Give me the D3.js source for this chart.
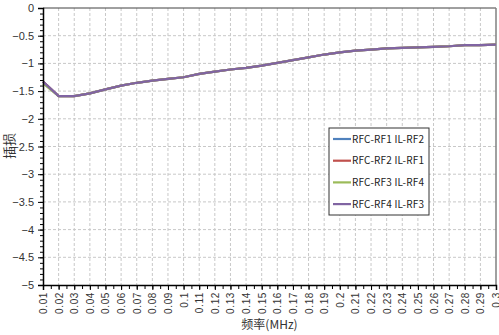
<!DOCTYPE html>
<html>
<head>
<meta charset="utf-8">
<script src="https://cdn.jsdelivr.net/npm/d3@7"></script>
<style>
  body { margin: 0; background: #fff; }
  svg { display: block; font-family: "Noto Sans CJK SC", "DejaVu Sans", sans-serif; }
</style>
</head>
<body>
<div id="chart"></div>
<script>
// frequency points (MHz)
const freqs = [0.01, 0.02, 0.03, 0.04, 0.05, 0.06, 0.07, 0.08, 0.09, 0.1,
               0.11, 0.12, 0.13, 0.14, 0.15, 0.16, 0.17, 0.18, 0.19, 0.2,
               0.21, 0.22, 0.23, 0.24, 0.25, 0.26, 0.27, 0.28, 0.29, 0.3];
const xLabels = ['0.01', '0.02', '0.03', '0.04', '0.05', '0.06', '0.07', '0.08', '0.09', '0.1',
                 '0.11', '0.12', '0.13', '0.14', '0.15', '0.16', '0.17', '0.18', '0.19', '0.2',
                 '0.21', '0.22', '0.23', '0.24', '0.25', '0.26', '0.27', '0.28', '0.29', '0.3'];
const yTicks = [0, -0.5, -1, -1.5, -2, -2.5, -3, -3.5, -4, -4.5, -5];

// insertion loss, all four paths nearly identical
const rf1 = [-1.33, -1.59, -1.59, -1.54, -1.47, -1.40, -1.35, -1.31, -1.28, -1.25,
             -1.19, -1.15, -1.11, -1.08, -1.04, -0.99, -0.94, -0.89, -0.84, -0.80,
             -0.77, -0.75, -0.73, -0.72, -0.71, -0.70, -0.69, -0.67, -0.67, -0.66];
const rf2 = [-1.33, -1.59, -1.59, -1.54, -1.47, -1.40, -1.35, -1.31, -1.28, -1.25,
             -1.19, -1.15, -1.11, -1.08, -1.04, -0.99, -0.94, -0.89, -0.84, -0.80,
             -0.77, -0.75, -0.73, -0.72, -0.71, -0.70, -0.69, -0.67, -0.67, -0.66];
const rf3 = [-1.36, -1.59, -1.59, -1.54, -1.47, -1.40, -1.35, -1.31, -1.28, -1.25,
             -1.19, -1.15, -1.11, -1.08, -1.04, -0.99, -0.94, -0.89, -0.84, -0.80,
             -0.77, -0.75, -0.73, -0.72, -0.71, -0.70, -0.69, -0.67, -0.67, -0.66];
const rf4 = [-1.33, -1.59, -1.59, -1.54, -1.47, -1.40, -1.35, -1.31, -1.28, -1.25,
             -1.19, -1.15, -1.11, -1.08, -1.04, -0.99, -0.94, -0.89, -0.84, -0.80,
             -0.77, -0.75, -0.73, -0.72, -0.71, -0.70, -0.69, -0.67, -0.67, -0.66];

const seriesNames = ['RFC-RF1 IL-RF2', 'RFC-RF2 IL-RF1', 'RFC-RF3 IL-RF4', 'RFC-RF4 IL-RF3'];
const seriesColors = ['#4f81bd', '#c0504d', '#9bbb59', '#8064a2'];
const seriesValues = [rf1, rf2, rf3, rf4];

const width = 499, height = 335;
const margin = { top: 8, right: 3, bottom: 50, left: 43 };

const svg = d3.select('#chart')
    .append('svg')
    .attr('width', width)
    .attr('height', height);

const x = d3.scaleLinear()
    .domain([freqs[0], freqs[freqs.length - 1]])
    .range([margin.left, width - margin.right]);
const y = d3.scaleLinear()
    .domain([-5, 0])
    .range([height - margin.bottom, margin.top]);

// Grid lines
svg.append('g')
    .selectAll('line')
    .data(freqs.slice(1, -1))
    .enter()
    .append('line')
    .attr('x1', d => x(d)).attr('x2', d => x(d))
    .attr('y1', y(0)).attr('y2', y(-5))
    .attr('stroke', '#c8c8c8')
    .attr('stroke-dasharray', '3,2');
svg.append('g')
    .selectAll('line')
    .data(yTicks.slice(1, -1))
    .enter()
    .append('line')
    .attr('x1', x.range()[0]).attr('x2', x.range()[1])
    .attr('y1', d => y(d)).attr('y2', d => y(d))
    .attr('stroke', '#c8c8c8')
    .attr('stroke-dasharray', '3,2');

// Plot frame (top / right)
svg.append('line')
    .attr('x1', x.range()[0]).attr('x2', x.range()[1])
    .attr('y1', y(0)).attr('y2', y(0))
    .attr('stroke', '#404040');
svg.append('line')
    .attr('x1', x.range()[1]).attr('x2', x.range()[1])
    .attr('y1', y(0)).attr('y2', y(-5))
    .attr('stroke', '#808080')
    .attr('stroke-width', 1.5);

// Series lines
const line = d3.line()
    .x((d, i) => x(freqs[i]))
    .y(d => y(d));

seriesValues.forEach((vals, i) => {
    svg.append('path')
        .datum(vals)
        .attr('fill', 'none')
        .attr('stroke', seriesColors[i])
        .attr('stroke-width', 2.2)
        .attr('d', line);
});

// Y axis
const yMinor = d3.range(0, 51).map(i => -i / 10);
svg.append('g')
    .attr('transform', `translate(${margin.left},0)`)
    .call(d3.axisLeft(y).tickValues(yMinor).tickSize(3).tickFormat(''))
    .call(g => g.select('.domain').remove());
const yAxis = svg.append('g')
    .attr('transform', `translate(${margin.left},0)`)
    .call(d3.axisLeft(y).tickValues(yTicks).tickSize(5).tickPadding(4)
        .tickFormat(d => String(d).replace('-', '\u2212')));
yAxis.select('.domain').attr('stroke', '#000').attr('stroke-width', 1.5);
yAxis.selectAll('text').attr('font-size', 11).attr('fill', '#333');

// X axis
const xMinor = d3.range(0, 59).map(i => 0.01 + i * 0.005);
svg.append('g')
    .attr('transform', `translate(0,${y(-5)})`)
    .call(d3.axisBottom(x).tickValues(xMinor).tickSize(4).tickFormat(''))
    .call(g => g.select('.domain').remove());
const xAxis = svg.append('g')
    .attr('transform', `translate(0,${y(-5)})`)
    .call(d3.axisBottom(x).tickValues(freqs).tickSize(5)
        .tickFormat((d, i) => xLabels[i]));
xAxis.select('.domain').attr('stroke', '#000').attr('stroke-width', 1.5);
xAxis.selectAll('text')
    .attr('font-size', 10)
    .attr('fill', '#333')
    .attr('letter-spacing', 0.6)
    .attr('transform', 'rotate(-90)')
    .attr('text-anchor', 'end')
    .attr('x', -7)
    .attr('y', 0)
    .attr('dy', '0.35em');

// Axis titles
svg.append('text')
    .attr('x', (x.range()[0] + x.range()[1]) / 2)
    .attr('y', 329)
    .attr('text-anchor', 'middle')
    .attr('font-size', 12)
    .attr('fill', '#333')
    .text('频率(MHz)');
svg.append('text')
    .attr('transform', 'translate(14,146) rotate(-90)')
    .attr('text-anchor', 'middle')
    .attr('font-size', 13)
    .attr('fill', '#333')
    .text('插损');

// Legend
const legend = svg.append('g').attr('transform', 'translate(329,128)');
legend.append('rect')
    .attr('width', 100).attr('height', 87)
    .attr('fill', '#fff')
    .attr('stroke', '#333');
const item = legend.selectAll('.item')
    .data(seriesNames)
    .enter()
    .append('g')
    .attr('class', 'item')
    .attr('transform', (d, i) => `translate(0,${11 + i * 21.7})`);
item.append('line')
    .attr('x1', 4).attr('x2', 22)
    .attr('stroke', (d, i) => seriesColors[i])
    .attr('stroke-width', 2.2);
item.append('text')
    .attr('x', 23)
    .attr('dy', '0.35em')
    .attr('font-size', 10)
    .attr('fill', '#222')
    .attr('textLength', 72)
    .text(d => d);
</script>
</body>
</html>
